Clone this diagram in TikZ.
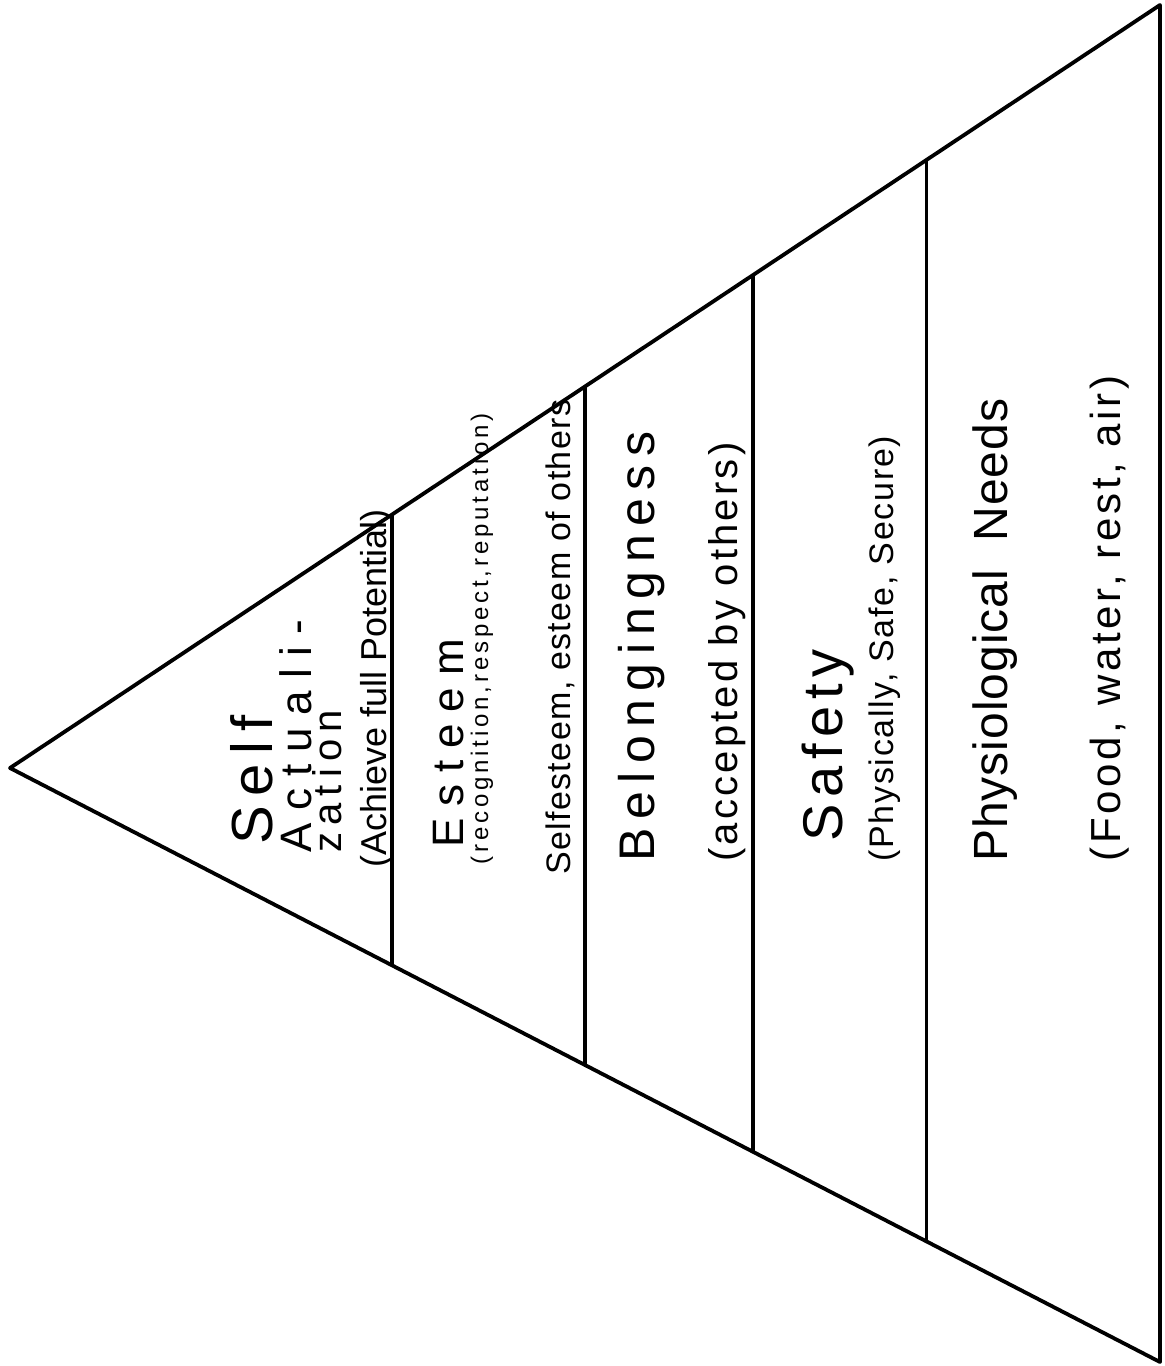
\documentclass[tikz,border=0pt]{standalone}
\usepackage{fontspec}
\setmainfont{Liberation Sans}
\usetikzlibrary{calc}
% size and tracking of the hand lettering
\newcommand\hand[2]{\fontsize{#1}{#1}\selectfont\addfontfeatures{LetterSpace=#2}}

\begin{document}
\begin{tikzpicture}[x=0.5pt, y=-0.5pt,
    edge/.style={line width=1.9pt, line join=round},
    txt/.style={rotate=90, anchor=base west, inner sep=0pt},
]
\useasboundingbox (0,0) rectangle (1164,1366);

% Pyramid lying on its side
\coordinate (apex) at (10,768);
\coordinate (topR) at (1160,5);
\coordinate (botR) at (1160,1362);
\draw[edge] (topR) -- (apex) -- (botR) -- cycle;

% Borders between the levels
\draw[edge] ($(apex)!0.332!(topR)$) -- ($(apex)!0.332!(botR)$);
\draw[edge] ($(apex)!0.500!(topR)$) -- ($(apex)!0.500!(botR)$);
\draw[edge] ($(apex)!0.646!(topR)$) -- ($(apex)!0.646!(botR)$);
\draw[edge] ($(apex)!0.797!(topR)$) -- ($(apex)!0.797!(botR)$);

% 1. Self actualization
\node[txt, font=\hand{29}{17}] (self) at (272,845) {Self};
\node[txt, font=\hand{22}{28}] (actual) at (311,853) {Actuali-};
\node[txt, font=\hand{20}{18}] (zation) at (341,853) {zation};
\node[txt, font=\hand{18}{0}] (achieve) at (386,868) {(Achieve full Potential)};

% 2. Esteem
\node[txt, font=\hand{22}{27}] (esteem) at (463,848) {Esteem};
\node[txt, font=\hand{12}{16}] (recog) at (488,865) {(recognition,respect,reputation)};
\node[txt, font=\hand{17}{4}] (selfest) at (570,875) {Selfesteem, esteem of others};

% 3. Belongingness
\node[txt, font=\hand{25}{17}] (belong) at (654,862) {Belongingness};
\node[txt, font=\hand{20}{8}] (accept) at (737,862) {(accepted by others)};

% 4. Safety
\node[txt, font=\hand{28}{12}] (safety) at (842,842) {Safety};
\node[txt, font=\hand{17}{5}] (secure) at (893,862) {(Physically, Safe, Secure)};

% 5. Physiological needs
\node[txt, font=\hand{24}{2}] (physio) at (1007,862) {Physiological\ \ Needs};
\node[txt, font=\hand{21}{9}] (food) at (1120,862) {(Food, water, rest, air)};
\end{tikzpicture}
\end{document}
